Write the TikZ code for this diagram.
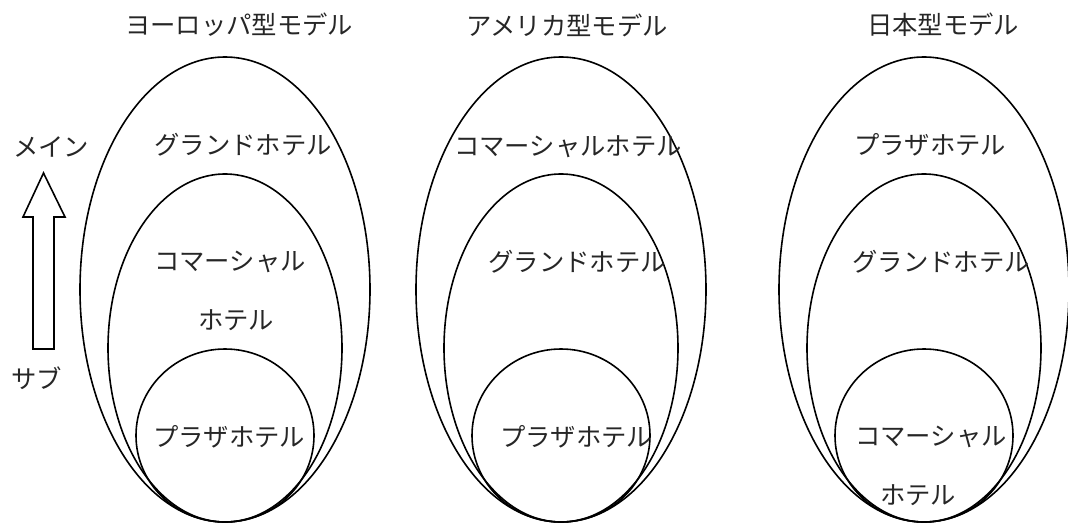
\documentclass[tikz,border=0pt]{standalone}
\usepackage{fontspec}
\newfontfamily\jp{Noto Sans CJK JP}
\begin{document}
\begin{tikzpicture}[x=0.75pt,y=-0.75pt,
  ringline/.style={draw=black,line width=1.2pt},
  lbl/.style={inner sep=0pt,text=black!85,font=\jp\fontsize{19}{20}\selectfont},
  blockarrow/.style={draw=black,line width=1.2pt,fill=white,line join=miter}]
\useasboundingbox (0,0) rectangle (1068,522);
% groups
\foreach \cx in {225,561,924}{
  \draw[ringline] (\cx,289.5) ellipse [x radius=145, y radius=232.5];
  \draw[ringline] (\cx,348) ellipse [x radius=117, y radius=174];
  \draw[ringline] (\cx,435.5) ellipse [x radius=89, y radius=86.5];
}
% titles
\node[lbl] (t1) at (239,25) {ヨーロッパ型モデル};
\node[lbl] (t2) at (567,25) {アメリカ型モデル};
\node[lbl] (t3) at (943,25) {日本型モデル};
% left
\node[lbl] (l1) at (243,145) {グランドホテル};
\node[lbl] (l2) at (230,262) {コマーシャル};
\node[lbl] (l3) at (236,320) {ホテル};
\node[lbl] (l4) at (229,437) {プラザホテル};
% middle
\node[lbl] (m1) at (568,147) {コマーシャルホテル};
\node[lbl] (m2) at (577,262) {グランドホテル};
\node[lbl] (m3) at (576,437) {プラザホテル};
% right
\node[lbl] (r1) at (930,145) {プラザホテル};
\node[lbl] (r2) at (941,262) {グランドホテル};
\node[lbl] (r3) at (931,437) {コマーシャル};
\node[lbl] (r4) at (918,495) {ホテル};
% axis
\node[lbl] (main) at (51,147) {メイン};
\node[lbl] (sub) at (37,378) {サブ};
\draw[blockarrow] (33,349) -- (33,217) -- (23,217) -- (43.5,173) -- (65,217) -- (54,217) -- (54,349) -- cycle;
\end{tikzpicture}
\end{document}
